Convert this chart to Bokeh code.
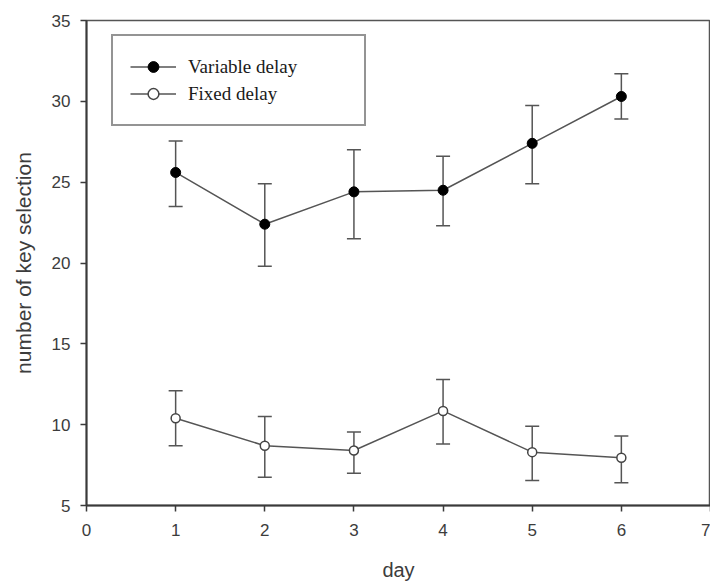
from bokeh.plotting import figure
from bokeh.models import ColumnDataSource, Whisker, TeeHead, Legend, LegendItem, FixedTicker, Range1d
from bokeh.embed import file_html
from bokeh.resources import INLINE

days = [1, 2, 3, 4, 5, 6]
variable_mean = [25.6, 22.4, 24.4, 24.5, 27.4, 30.3]
variable_upper = [27.55, 24.9, 27.0, 26.6, 29.75, 31.7]
variable_lower = [23.5, 19.8, 21.5, 22.3, 24.9, 28.9]
fixed_mean = [10.4, 8.7, 8.4, 10.85, 8.3, 7.95]
fixed_upper = [12.1, 10.5, 9.55, 12.8, 9.9, 9.3]
fixed_lower = [8.7, 6.75, 7.0, 8.8, 6.55, 6.4]
x_ticks = [0, 1, 2, 3, 4, 5, 6, 7]
y_ticks = [5, 10, 15, 20, 25, 30, 35]

LINE = "#555555"
AXIS = "#3a3a3a"
LABEL = "#3c3c3c"

p = figure(width=710, height=583, output_backend="svg", toolbar_location=None,
           x_range=Range1d(0, 7), y_range=Range1d(5, 35),
           min_border_left=86, min_border_right=0, min_border_top=20, min_border_bottom=78)
p.xgrid.visible = False
p.ygrid.visible = False
p.outline_line_color = "#555555"
p.outline_line_width = 1.5
p.background_fill_color = "white"
p.border_fill_color = "white"

for ax in (p.xaxis[0], p.yaxis[0]):
    ax.axis_line_color = AXIS
    ax.axis_line_width = 2
    ax.major_tick_line_color = AXIS
    ax.major_tick_line_width = 1.5
    ax.major_tick_out = 6
    ax.major_tick_in = 0
    ax.minor_tick_line_color = None
    ax.major_label_text_font = "Liberation Sans"
    ax.major_label_text_font_size = "17px"
    ax.major_label_text_color = LABEL
    ax.axis_label_text_font = "Liberation Sans"
    ax.axis_label_text_font_style = "normal"
    ax.axis_label_text_color = LABEL

p.xaxis.ticker = FixedTicker(ticks=x_ticks)
p.yaxis.ticker = FixedTicker(ticks=y_ticks)
p.xaxis.major_label_standoff = 12
p.yaxis.major_label_standoff = 10
p.xaxis.axis_label = "day"
p.yaxis.axis_label = "number of key selection"
p.xaxis.axis_label_text_font_size = "20px"
p.yaxis.axis_label_text_font_size = "21px"
p.xaxis.axis_label_standoff = 20
p.yaxis.axis_label_standoff = 14

src_v = ColumnDataSource(dict(x=days, y=variable_mean, up=variable_upper, lo=variable_lower))
src_f = ColumnDataSource(dict(x=days, y=fixed_mean, up=fixed_upper, lo=fixed_lower))

for src in (src_v, src_f):
    w = Whisker(source=src, base="x", upper="up", lower="lo",
                line_color=LINE, line_width=1.5,
                upper_head=TeeHead(size=14, line_color=LINE, line_width=1.5),
                lower_head=TeeHead(size=14, line_color=LINE, line_width=1.5))
    p.add_layout(w)

lv = p.line("x", "y", source=src_v, line_color=LINE, line_width=1.5)
sv = p.scatter("x", "y", source=src_v, size=10, fill_color="black", line_color="black")
lf = p.line("x", "y", source=src_f, line_color=LINE, line_width=1.5)
sf = p.scatter("x", "y", source=src_f, size=9, fill_color="white", line_color="#444444", line_width=1.5)

legend = Legend(items=[LegendItem(label="Variable delay", renderers=[lv, sv]),
                       LegendItem(label="Fixed delay", renderers=[lf, sf])],
                location=(25, 379))
legend.border_line_color = "#2a2a2a"
legend.border_line_width = 2
legend.background_fill_color = "white"
legend.background_fill_alpha = 1
legend.padding = 17
legend.spacing = 0
legend.glyph_width = 46
legend.glyph_height = 27
legend.label_height = 27
legend.label_width = 159
legend.label_standoff = 12
legend.label_text_font = "Liberation Serif"
legend.label_text_font_size = "19px"
legend.label_text_color = "#1a1a1a"
legend.margin = 0
p.add_layout(legend, "center")

open("out.html", "w").write(file_html(p, INLINE))
